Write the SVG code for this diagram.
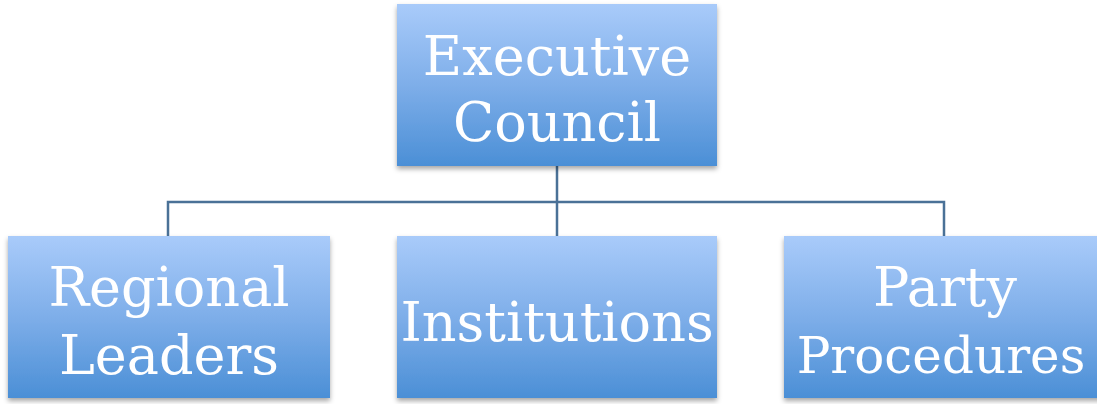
<svg xmlns="http://www.w3.org/2000/svg" width="1097" height="404" viewBox="0 0 1097 404">
  <defs>
    <linearGradient id="boxFill" x1="0" y1="0" x2="0" y2="1">
      <stop offset="0" stop-color="#a9cbfa"/>
      <stop offset="0.5" stop-color="#7eaee9"/>
      <stop offset="1" stop-color="#4b8fd6"/>
    </linearGradient>
    <filter id="shadow" x="-5%" y="-5%" width="110%" height="115%">
      <feDropShadow dx="0" dy="3" stdDeviation="2.5" flood-color="#000" flood-opacity="0.35"/>
    </filter>
  </defs>
  <style>
    .box { fill: url(#boxFill); filter: url(#shadow); }
    .label { font-family: "DejaVu Serif", "Liberation Serif", serif; font-size: 54px; fill: #ffffff; text-anchor: middle; }
    .label.tight { font-size: 50px; }
    .wire { fill: none; stroke: #4a7197; stroke-width: 2.5; }
  </style>
  <rect width="1097" height="404" fill="#ffffff"/>

  <!-- org-chart wiring: trunk from the council down to a bus, then drops to each child -->
  <g id="connectors">
    <path class="wire" d="M557 166 V236 M168 236 V202 H944 V236"/>
  </g>

  <g id="executive-council">
    <rect class="box" x="397" y="4" width="320" height="162"/>
    <text class="label" x="557" y="75">Executive</text>
    <text class="label" x="557" y="141">Council</text>
  </g>

  <g id="regional-leaders">
    <rect class="box" x="8" y="236" width="322" height="162"/>
    <text class="label" x="169" y="306">Regional</text>
    <text class="label" x="169" y="374">Leaders</text>
  </g>

  <g id="institutions">
    <rect class="box" x="397" y="236" width="320" height="162"/>
    <text class="label" x="557" y="341">Institutions</text>
  </g>

  <g id="party-procedures">
    <rect class="box" x="784" y="236" width="322" height="162"/>
    <text class="label" x="945" y="306">Party</text>
    <!-- slightly smaller so the long word stays inside the canvas -->
    <text class="label tight" x="941" y="373">Procedures</text>
  </g>
</svg>
